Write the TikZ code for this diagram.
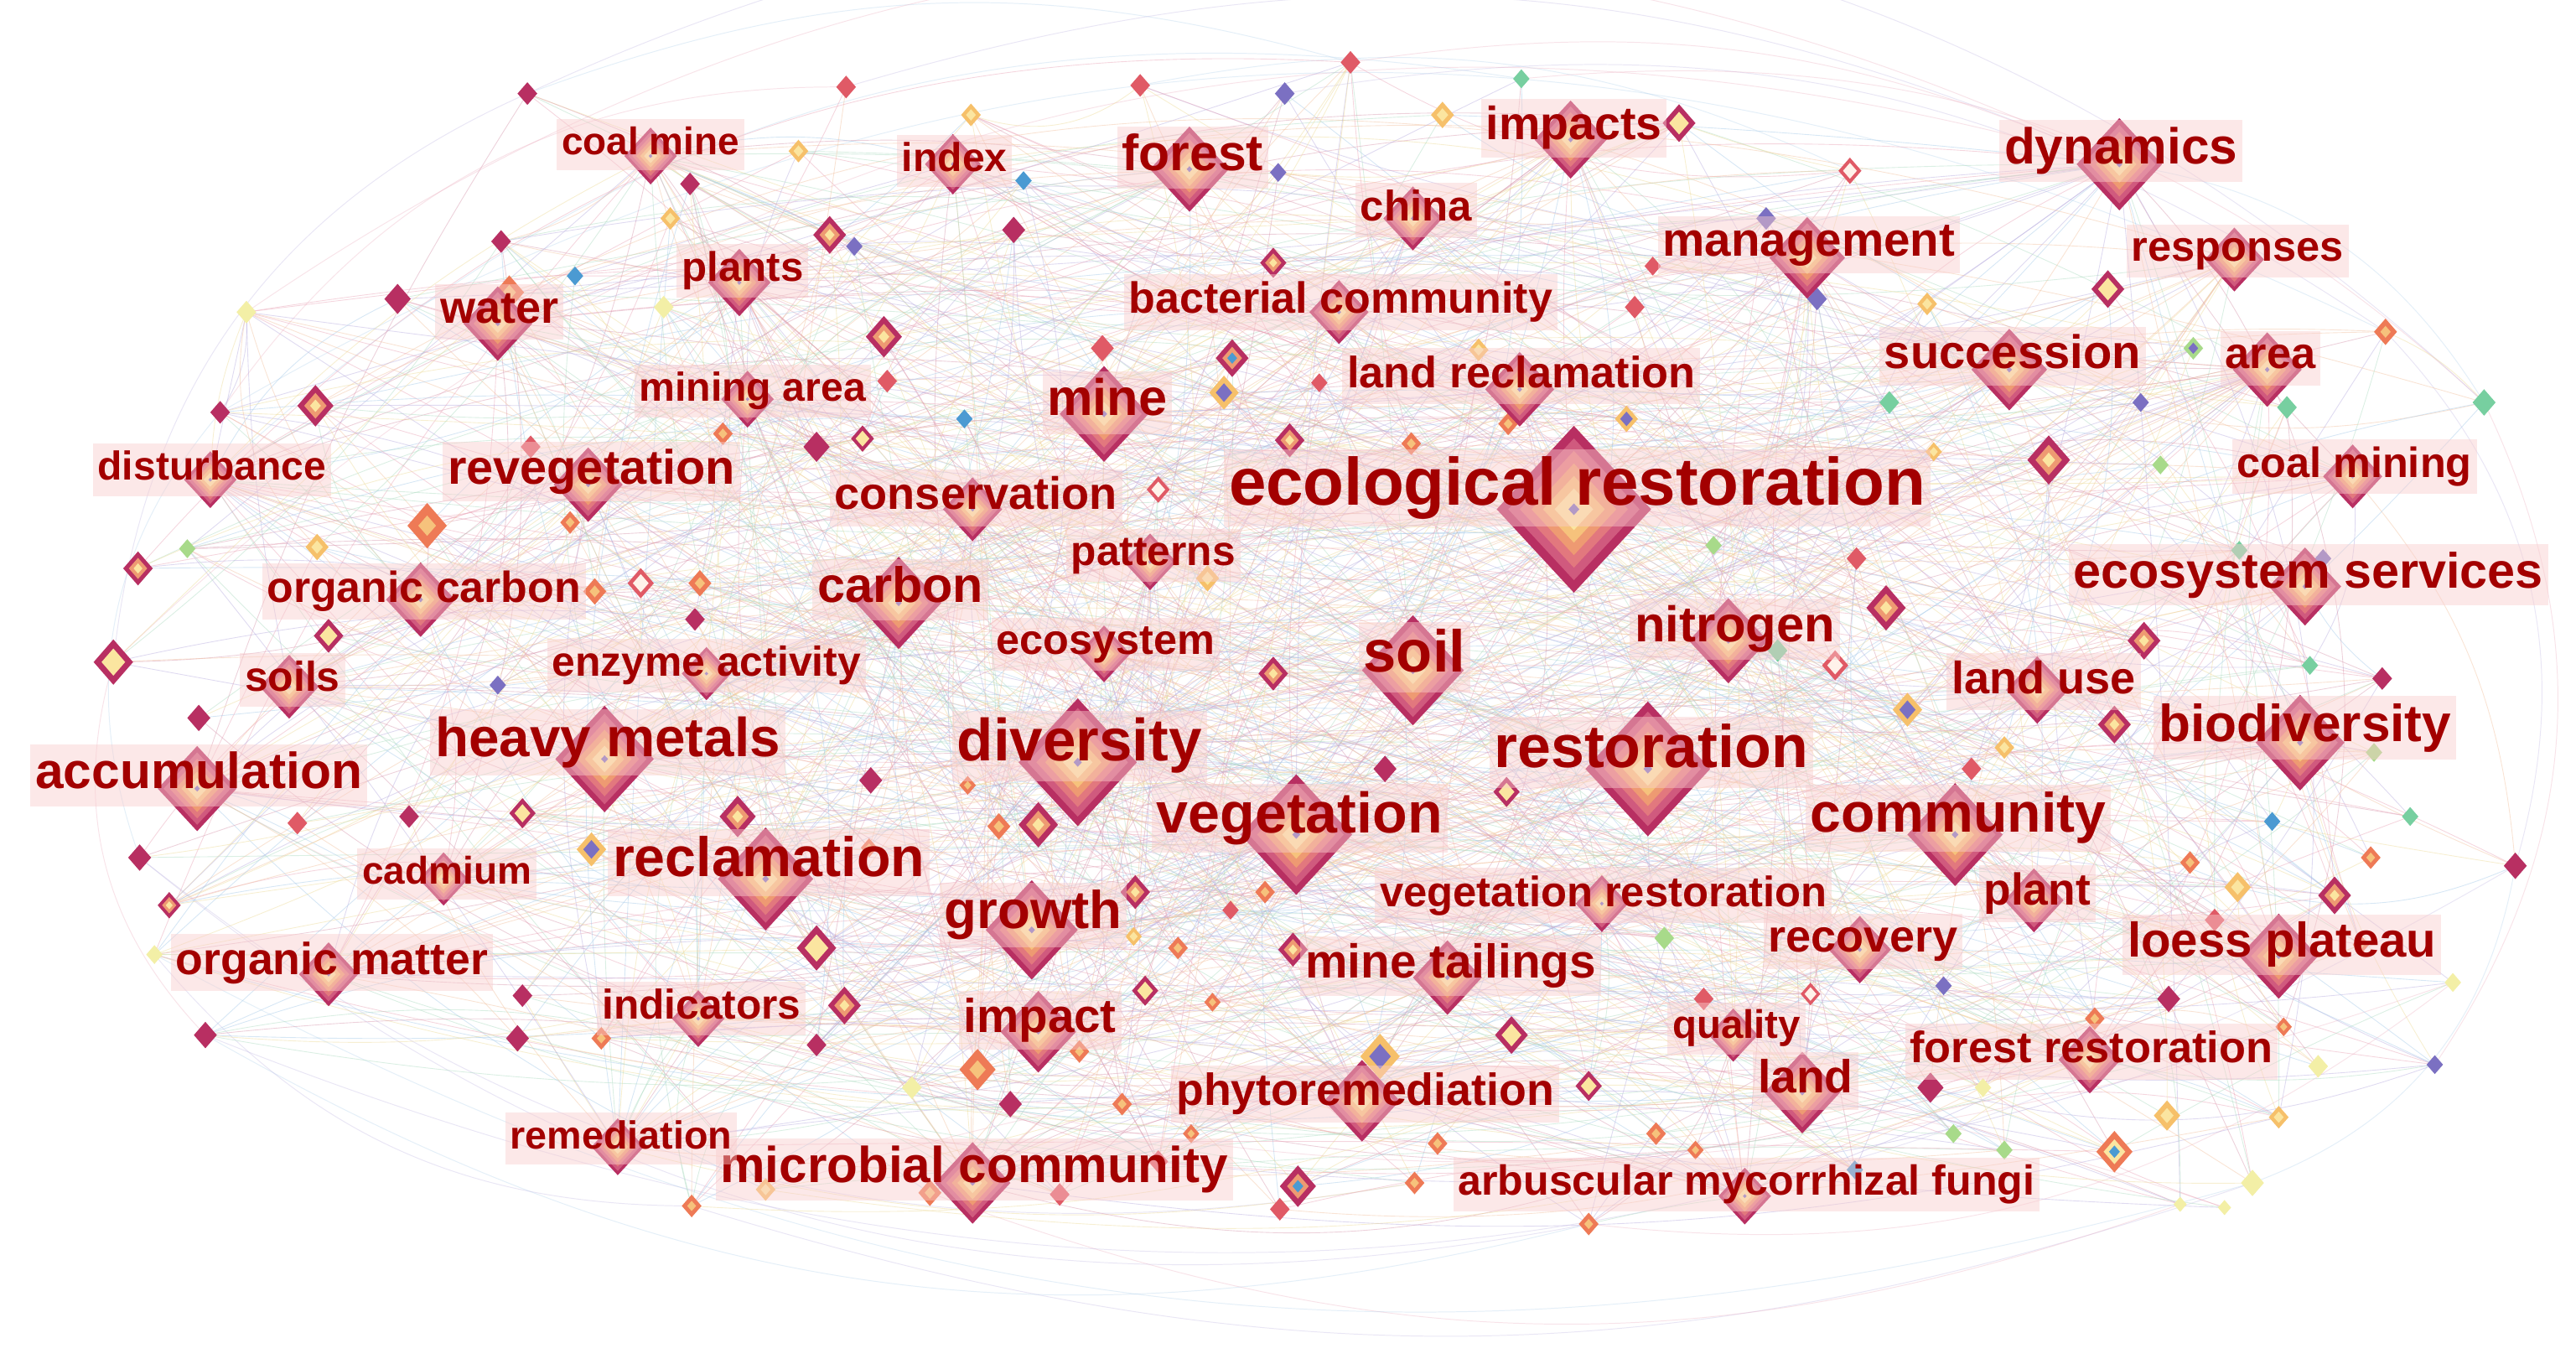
\documentclass[tikz,border=0pt]{standalone}
\usepackage{fontspec}
\setmainfont{Liberation Sans}
\usepackage{graphicx}
\definecolor{lbl}{HTML}{A30000}
\definecolor{lblbg}{HTML}{F9CDCD}
\definecolor{r1}{HTML}{B82F62}
\definecolor{r2}{HTML}{D05A7E}
\definecolor{r3}{HTML}{E2787E}
\definecolor{r4}{HTML}{EE9A72}
\definecolor{r5}{HTML}{F6C27C}
\definecolor{r6}{HTML}{FBE5A0}
\definecolor{rr}{HTML}{E05A66}
\definecolor{o1}{HTML}{EE7A56}
\definecolor{y1}{HTML}{F6C06A}
\definecolor{pu}{HTML}{7B70C2}
\definecolor{gr}{HTML}{77CFA0}
\definecolor{lg}{HTML}{A8DA8A}
\definecolor{bu}{HTML}{4B9AD2}
\definecolor{py}{HTML}{F3EFA6}
\definecolor{wh}{HTML}{FFF2EA}
\definecolor{ec1}{HTML}{EBA5B8}
\definecolor{ec2}{HTML}{B9AEE0}
\definecolor{ec3}{HTML}{A6CBEA}
\definecolor{ec4}{HTML}{F3C3A0}
\definecolor{ec5}{HTML}{EEDC9A}
\definecolor{ec6}{HTML}{AEDCC2}
\definecolor{ec7}{HTML}{D99AB0}
\tikzset{
  lab/.style={font=\bfseries, text=lbl, fill=lblbg, fill opacity=0.45, text opacity=1, inner xsep=0.3pt, inner ysep=0.45pt},
  lnk/.style={line width=0.045pt, draw opacity=0.45},
  halo/.style={line width=0.05pt, draw opacity=0.3}
}
% ring lists: fraction/colour
\def\rgB{1/r1,0.85/r2,0.7/r3,0.55/r4,0.4/r5,0.25/r6,0.07/pu}
\def\rgR{1/r1,0.62/r4,0.3/r6}
\def\rgD{1/r1}
\def\rgE{1/rr}
\def\rgO{1/o1,0.45/r5}
\def\rgY{1/y1,0.5/r6}
\def\rgP{1/pu}
\def\rgG{1/gr}
\def\rgL{1/lg}
\def\rgU{1/bu}
\def\rgV{1/py}
\def\rgK{1/r1,0.6/r6}
\def\rgQ{1/y1,0.55/pu}
\def\rgW{1/rr,0.6/wh}
\def\rgZ{1/o1,0.6/r6,0.3/bu}
\def\rgT{1/r1,0.6/r4,0.3/bu}
\def\rgX{1/lg,0.5/pu}
% keywords: diamond x/y/half width/type/label x/label y/label width/text
\def\kwlist{%
958/310/47/B/960/297/424/ecological restoration,%
860/408/31/B/861/400/62/soil,%
656/464/36/B/657/454/149/diversity,%
1003/468/38/B/1005/458/191/restoration,%
789/508/34/B/791/498/174/vegetation,%
368/462/30/B/370/452/210/heavy metals,%
1190/508/29/B/1192/498/180/community,%
466/535/29/B/468/525/190/reclamation,%
628/566/28/B/629/557/108/growth,%
672/252/27/B/674/245/73/mine,%
547/367/26/B/548/359/101/carbon,%
1400/452/27/B/1403/443/178/biodiversity,%
1290/100/26/B/1291/92/142/dynamics,%
724/103/24/B/726/96/86/forest,%
1052/390/24/B/1056/383/122/nitrogen,%
120/480/24/B/121/472/199/accumulation,%
1387/582/24/B/1389/575/188/loess plateau,%
1223/225/23/B/1225/217/156/succession,%
1403/357/22/B/1405/350/286/ecosystem services,%
1100/157/23/B/1101/149/178/management,%
956/85/22/B/958/78/107/impacts,%
358/295/21/B/360/287/175/revegetation,%
1097/665/23/B/1099/658/58/land,%
829/670/23/B/831/666/230/phytoremediation,%
592/720/23/B/593/712/309/microbial community,%
632/628/23/B/633/621/93/impact,%
881/595/21/B/883/588/177/mine tailings,%
256/365/21/B/258/360/191/organic carbon,%
1380/225/21/B/1382/218/55/area,%
925/237/21/B/926/229/212/land reclamation,%
303/197/21/B/304/190/72/water,%
450/172/19/B/452/165/74/plants,%
1132/578/19/B/1134/573/115/recovery,%
1240/420/19/B/1244/415/112/land use,%
1272/645/19/B/1273/640/221/forest restoration,%
1238/548/18/B/1240/544/65/plant,%
200/593/18/B/202/586/190/organic matter,%
1360/158/18/B/1362/153/129/responses,%
860/133/18/B/862/128/68/china,%
815/190/18/B/816/184/258/bacterial community,%
1432/290/18/B/1433/284/143/coal mining,%
592/310/18/B/594/303/172/conservation,%
580/100/17/B/581/98/64/index,%
396/95/16/B/396/88/108/coal mine,%
176/418/18/B/178/414/58/soils,%
975/550/16/B/976/545/272/vegetation restoration,%
1062/728/16/B/1063/721/351/arbuscular mycorrhizal fungi,%
128/292/16/B/129/286/139/disturbance,%
672/398/16/B/673/392/133/ecosystem,%
700/342/16/B/702/338/100/patterns,%
455/243/16/B/458/238/138/mining area,%
430/410/15/B/430/405/188/enzyme activity,%
270/535/15/B/272/532/103/cadmium,%
425/620/16/B/427/614/121/indicators,%
1055/630/15/B/1057/626/78/quality,%
376/698/16/B/378/693/135/remediation}
% small unlabeled nodes: x/y/half width/type
\def\smlist{%
321/57/6/D,515/53/6/E,694/52/6/E,782/57/6/P,822/38/6/E,926/48/5/G,878/70/7/Y,1022/75/10/K,1126/104/7/W,1075/133/6/P,%
1106/182/6/P,995/187/6/E,1006/162/5/E,775/160/8/R,778/105/5/P,623/110/5/U,617/140/7/D,520/150/5/P,505/143/10/R,420/112/6/D,%
408/133/6/Y,486/92/6/Y,591/70/6/Y,305/147/6/D,310/178/9/O,350/168/5/U,404/187/6/V,242/182/8/D,150/190/6/V,538/205/11/R,%
671/212/7/E,750/218/10/T,745/239/9/Q,803/233/5/E,785/268/9/R,859/270/6/O,900/213/6/Y,918/258/6/O,990/255/7/Q,1173/185/6/Y,%
1150/245/6/G,1247/280/13/R,1283/176/10/K,1335/212/6/X,1303/245/5/P,1315/283/5/L,1452/202/7/O,1392/248/6/G,1512/245/7/G,1177/275/5/Y,%
1043/332/5/L,1130/340/6/E,1148/370/12/R,1117/405/8/W,1082/396/6/G,1305/390/10/R,1363/335/5/G,1414/340/5/P,1406/405/5/G,1450/413/6/D,%
1287/441/10/R,1161/432/9/Q,1200/468/6/E,1220/455/6/Y,1445/458/5/L,1467/497/5/G,1383/500/5/U,1443/522/6/O,1421/545/10/R,1362/540/8/Y,%
1531/527/7/D,1333/525/6/O,1348/560/6/E,1320/608/7/D,1275/620/6/O,1437/575/5/O,1390/625/5/O,1493/598/5/V,1411/649/6/V,1482/648/5/P,%
1387/680/6/Y,1319/679/8/Y,1287/701/11/Z,1371/720/7/V,1354/735/4/V,1327/733/4/V,1220/700/5/L,1189/690/5/L,1207/662/5/V,1175/662/8/D,%
1102/605/6/W,1129/712/5/U,1183/600/5/P,1037/608/6/E,1013/571/6/L,920/630/10/K,967/661/8/K,1008/690/6/O,1032/700/5/O,967/745/6/O,%
875/696/6/O,861/720/6/O,790/722/11/T,779/736/6/E,840/643/12/Q,787/578/9/R,770/543/6/O,749/554/5/E,717/577/6/O,697/603/8/K,%
691/543/9/R,738/610/5/O,690/570/5/Y,608/503/7/O,632/502/12/R,589/478/5/O,530/475/7/D,529/516/5/O,497/577/12/K,514/612/10/R,%
449/497/11/R,360/517/9/Q,318/495/8/K,249/497/6/D,181/501/6/E,85/522/7/D,103/551/7/R,94/581/5/V,125/630/7/D,315/632/7/D,%
318/606/6/D,366/632/6/O,497/636/6/D,555/662/6/V,595/651/11/O,615/672/7/D,657/640/6/O,683/672/6/O,705/707/6/E,725/690/5/O,%
645/727/6/E,566/726/7/O,466/724/6/Y,421/734/6/O,69/403/12/K,84/346/9/R,121/437/7/D,114/334/5/L,193/333/7/Y,200/387/9/K,%
192/247/11/R,134/251/6/D,260/320/12/O,323/272/6/E,347/318/6/O,362/360/7/O,390/355/8/W,426/355/7/O,423/377/6/D,303/417/5/P,%
497/272/8/D,525/267/7/K,440/264/6/O,587/255/5/U,705/298/7/W,735/352/7/Y,775/410/9/R,843/468/7/D,917/482/8/K,540/232/6/E}
\begin{document}
\begin{tikzpicture}[x=0.1pt,y=-0.1pt]
\useasboundingbox (0,0) rectangle (1568,830);
\fill[white] (0,0) rectangle (1568,830);
% node positions
\foreach \dx/\dy/\hw/\tp/\tx/\ty/\W/\txt [count=\i] in \kwlist {\coordinate (k\i) at (\dx,\dy);}
\foreach \dx/\dy/\hw/\tp [count=\i] in \smlist {\coordinate (s\i) at (\dx,\dy);}
% outer halo arcs (clockwise, bulging outward)
\foreach \p/\q/\bd/\ec in {s145/s1/30/ec2,s152/s2/28/ec1,s1/s5/18/ec3,s2/k13/20/ec2,s5/k13/16/ec1,s3/s9/18/ec3,s4/s47/22/ec2,s6/s49/24/ec1,
  k13/s49/25/ec3,s47/s71/30/ec2,s49/s80/30/ec1,s71/s84/30/ec3,s78/s100/22/ec1,s84/s144/18/ec2,s86/s142/20/ec1,s100/s129/22/ec3,
  s102/s126/24/ec2,s129/s145/30/ec1,s126/s152/30/ec3,s144/s128/25/ec2,s145/k13/30/ec1,s152/s47/28/ec3,s129/s71/-26/ec2,k16/s78/-24/ec1,
  s128/s84/-22/ec3,s1/s49/34/ec2,s29/k13/30/ec1,s126/s100/-25/ec2,k48/s6/26/ec3,s85/s143/-18/ec1}
  {\draw[halo, draw=\ec] (\p) to[bend left=\bd] (\q);}
% random co-occurrence links
\pgfmathsetseed{4242}
\foreach \j in {1,...,1000} {
  \pgfmathtruncatemacro\a{random(1,56)}
  \pgfmathtruncatemacro\b{random(1,226)}
  \pgfmathtruncatemacro\bd{random(-22,22)}
  \pgfmathtruncatemacro\ec{random(1,7)}
  \ifnum\b>56 \pgfmathtruncatemacro\bb{\b-56}\edef\tgt{s\bb}\else\edef\tgt{k\b}\fi
  \ifnum\a=\b\else \draw[lnk, draw=ec\ec] (k\a) to[bend left=\bd] (\tgt);\fi
}
\foreach \j in {1,...,260} {
  \pgfmathtruncatemacro\a{random(1,170)}
  \pgfmathtruncatemacro\b{random(1,170)}
  \pgfmathtruncatemacro\bd{random(-30,30)}
  \pgfmathtruncatemacro\ec{random(1,7)}
  \ifnum\a=\b\else \draw[lnk, draw=ec\ec] (s\a) to[bend left=\bd] (s\b);\fi
}
% small diamonds
\foreach \dx/\dy/\hw/\tp [count=\i] in \smlist {
  \expandafter\let\expandafter\ringlist\csname rg\tp\endcsname
  \foreach \ff/\cc in \ringlist {
    \fill[\cc, shift={(s\i)}] (0,{-1.15*\hw*\ff}) -- ({\hw*\ff},0) -- (0,{1.15*\hw*\ff}) -- ({-\hw*\ff},0) -- cycle;
  }
}
% keyword diamonds
\foreach \dx/\dy/\hw/\tp/\tx/\ty/\W/\txt [count=\i] in \kwlist {
  \expandafter\let\expandafter\ringlist\csname rg\tp\endcsname
  \foreach \ff/\cc in \ringlist {
    \fill[\cc, shift={(k\i)}] (0,{-1.08*\hw*\ff}) -- ({\hw*\ff},0) -- (0,{1.08*\hw*\ff}) -- ({-\hw*\ff},0) -- cycle;
  }
}
% labels
\foreach \dx/\dy/\hw/\tp/\tx/\ty/\W/\txt [count=\i] in \kwlist {
  \pgfmathsetmacro\ww{0.1*\W}
  \node[lab] (l\i) at (\tx,\ty) {\resizebox{\ww pt}{!}{\vphantom{Ag}\txt}};
}
\end{tikzpicture}
\end{document}
